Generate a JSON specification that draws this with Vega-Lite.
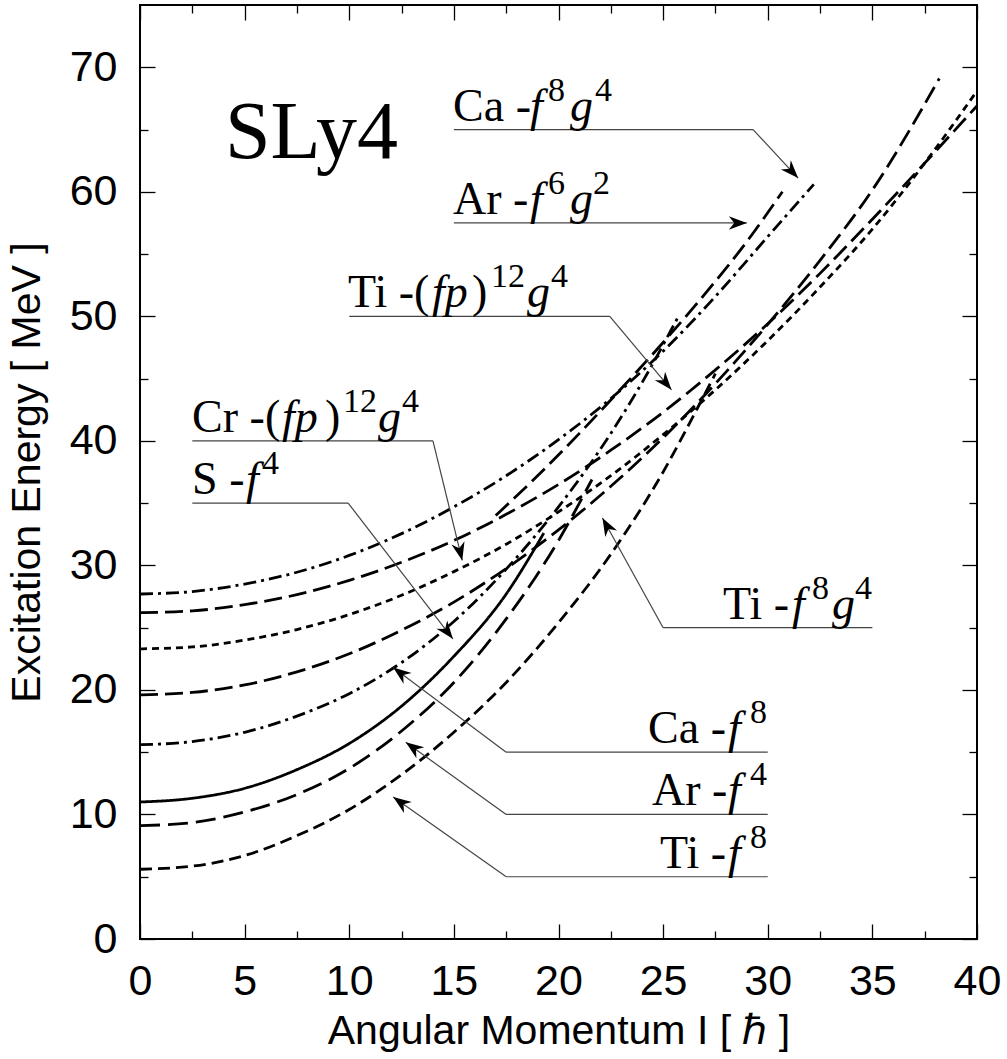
{
  "$schema": "https://vega.github.io/schema/vega-lite/v6.json",
  "width": 837,
  "height": 934,
  "autosize": {"type": "none"},
  "padding": {"left": 140, "top": 5, "right": 30, "bottom": 120},
  "background": "white",
  "config": {
    "view": {"stroke": "black", "strokeWidth": 2},
    "axis": {
      "domain": false, "grid": false, "tickColor": "black", "tickWidth": 1.3, "labelFlush": false,
      "labelFont": "Liberation Sans", "labelFontSize": 43, "labelColor": "black",
      "titleFont": "Liberation Sans", "titleFontSize": 41, "titleColor": "black", "titleFontWeight": "normal"
    }
  },
  "resolve": {"axis": {"x": "independent", "y": "independent"}},
  "datasets": {
    "curves": [
      {"curve": "TiF8", "I": 0, "E": 5.6}, {"curve": "TiF8", "I": 2.5, "E": 5.85}, {"curve": "TiF8", "I": 5, "E": 6.7}, {"curve": "TiF8", "I": 7.5, "E": 8.3}, {"curve": "TiF8", "I": 10, "E": 10.4}, {"curve": "TiF8", "I": 12.5, "E": 13.2}, {"curve": "TiF8", "I": 15, "E": 16.6}, {"curve": "TiF8", "I": 17.5, "E": 20.6}, {"curve": "TiF8", "I": 20, "E": 25.4}, {"curve": "TiF8", "I": 22.5, "E": 30.9}, {"curve": "TiF8", "I": 25, "E": 37.5}, {"curve": "TiF8", "I": 26.6, "E": 42.5}, {"curve": "TiF8", "I": 27.5, "E": 45.4},
      {"curve": "ArF4", "I": 0, "E": 9.1}, {"curve": "ArF4", "I": 2.5, "E": 9.35}, {"curve": "ArF4", "I": 5, "E": 10.2}, {"curve": "ArF4", "I": 7.5, "E": 11.6}, {"curve": "ArF4", "I": 10, "E": 13.7}, {"curve": "ArF4", "I": 12.5, "E": 16.7}, {"curve": "ArF4", "I": 15, "E": 20.6}, {"curve": "ArF4", "I": 17.5, "E": 25.7}, {"curve": "ArF4", "I": 20, "E": 32.0}, {"curve": "ArF4", "I": 21.6, "E": 36.9},
      {"curve": "SF4", "I": 0, "E": 11.0}, {"curve": "SF4", "I": 2.5, "E": 11.3}, {"curve": "SF4", "I": 5, "E": 12.1}, {"curve": "SF4", "I": 7.5, "E": 13.6}, {"curve": "SF4", "I": 10, "E": 15.7}, {"curve": "SF4", "I": 12.5, "E": 18.7}, {"curve": "SF4", "I": 15, "E": 22.7}, {"curve": "SF4", "I": 17.5, "E": 27.7}, {"curve": "SF4", "I": 19.3, "E": 32.6},
      {"curve": "CaF8", "I": 0, "E": 15.6}, {"curve": "CaF8", "I": 2.5, "E": 15.85}, {"curve": "CaF8", "I": 5, "E": 16.6}, {"curve": "CaF8", "I": 7.5, "E": 17.9}, {"curve": "CaF8", "I": 10, "E": 19.7}, {"curve": "CaF8", "I": 12.5, "E": 22.2}, {"curve": "CaF8", "I": 15, "E": 25.5}, {"curve": "CaF8", "I": 17.5, "E": 29.7}, {"curve": "CaF8", "I": 20, "E": 34.7}, {"curve": "CaF8", "I": 22.5, "E": 40.6}, {"curve": "CaF8", "I": 24, "E": 44.7}, {"curve": "CaF8", "I": 25.7, "E": 49.9},
      {"curve": "TiF8G4", "I": 0, "E": 19.6}, {"curve": "TiF8G4", "I": 2.5, "E": 19.8}, {"curve": "TiF8G4", "I": 5, "E": 20.4}, {"curve": "TiF8G4", "I": 7.5, "E": 21.45}, {"curve": "TiF8G4", "I": 10, "E": 22.9}, {"curve": "TiF8G4", "I": 12.5, "E": 24.8}, {"curve": "TiF8G4", "I": 15, "E": 27.05}, {"curve": "TiF8G4", "I": 17.5, "E": 29.75}, {"curve": "TiF8G4", "I": 20, "E": 32.85}, {"curve": "TiF8G4", "I": 22.5, "E": 36.35}, {"curve": "TiF8G4", "I": 25, "E": 40.25}, {"curve": "TiF8G4", "I": 27.5, "E": 44.6}, {"curve": "TiF8G4", "I": 30, "E": 49.35}, {"curve": "TiF8G4", "I": 32.5, "E": 54.5}, {"curve": "TiF8G4", "I": 35, "E": 60.15}, {"curve": "TiF8G4", "I": 38.2, "E": 69.1},
      {"curve": "CrFP", "I": 0, "E": 23.3}, {"curve": "CrFP", "I": 2.5, "E": 23.45}, {"curve": "CrFP", "I": 5, "E": 24.0}, {"curve": "CrFP", "I": 7.5, "E": 24.85}, {"curve": "CrFP", "I": 10, "E": 26.05}, {"curve": "CrFP", "I": 12.5, "E": 27.6}, {"curve": "CrFP", "I": 15, "E": 29.5}, {"curve": "CrFP", "I": 17.5, "E": 31.7}, {"curve": "CrFP", "I": 20, "E": 34.3}, {"curve": "CrFP", "I": 22.5, "E": 37.2}, {"curve": "CrFP", "I": 25, "E": 40.5}, {"curve": "CrFP", "I": 27.5, "E": 44.1}, {"curve": "CrFP", "I": 30, "E": 48.05}, {"curve": "CrFP", "I": 32.5, "E": 52.35}, {"curve": "CrFP", "I": 35, "E": 57.0}, {"curve": "CrFP", "I": 37.5, "E": 62.3}, {"curve": "CrFP", "I": 40, "E": 68.1},
      {"curve": "TiFP", "I": 0, "E": 26.2}, {"curve": "TiFP", "I": 2.5, "E": 26.35}, {"curve": "TiFP", "I": 5, "E": 26.85}, {"curve": "TiFP", "I": 7.5, "E": 27.65}, {"curve": "TiFP", "I": 10, "E": 28.8}, {"curve": "TiFP", "I": 12.5, "E": 30.25}, {"curve": "TiFP", "I": 15, "E": 32.0}, {"curve": "TiFP", "I": 17.5, "E": 34.1}, {"curve": "TiFP", "I": 20, "E": 36.5}, {"curve": "TiFP", "I": 22.5, "E": 39.25}, {"curve": "TiFP", "I": 25, "E": 42.3}, {"curve": "TiFP", "I": 27.5, "E": 45.7}, {"curve": "TiFP", "I": 30, "E": 49.4}, {"curve": "TiFP", "I": 32.5, "E": 53.45}, {"curve": "TiFP", "I": 35, "E": 57.8}, {"curve": "TiFP", "I": 37.5, "E": 62.3}, {"curve": "TiFP", "I": 40, "E": 66.9},
      {"curve": "CaF8G4", "I": 0, "E": 27.7}, {"curve": "CaF8G4", "I": 2.5, "E": 27.9}, {"curve": "CaF8G4", "I": 5, "E": 28.5}, {"curve": "CaF8G4", "I": 7.5, "E": 29.45}, {"curve": "CaF8G4", "I": 10, "E": 30.8}, {"curve": "CaF8G4", "I": 12.5, "E": 32.55}, {"curve": "CaF8G4", "I": 15, "E": 34.7}, {"curve": "CaF8G4", "I": 17.5, "E": 37.2}, {"curve": "CaF8G4", "I": 20, "E": 40.1}, {"curve": "CaF8G4", "I": 22.5, "E": 43.4}, {"curve": "CaF8G4", "I": 25, "E": 47.2}, {"curve": "CaF8G4", "I": 27.5, "E": 51.6}, {"curve": "CaF8G4", "I": 30, "E": 56.4}, {"curve": "CaF8G4", "I": 32.2, "E": 60.6},
      {"curve": "ArF6G2", "I": 17, "E": 34.0}, {"curve": "ArF6G2", "I": 19, "E": 37.2}, {"curve": "ArF6G2", "I": 21, "E": 40.6}, {"curve": "ArF6G2", "I": 23, "E": 44.2}, {"curve": "ArF6G2", "I": 25, "E": 47.9}, {"curve": "ArF6G2", "I": 27, "E": 51.8}, {"curve": "ArF6G2", "I": 29, "E": 56.0}, {"curve": "ArF6G2", "I": 30.7, "E": 60.0}
    ],
    "leaders": [
      {"x": 15, "y": 65, "x2": 29.3, "y2": 65, "arrow": false},
      {"x": 29.3, "y": 65, "x2": 31.45, "y2": 61.1, "arrow": true},
      {"x": 15, "y": 57.5, "x2": 29.0, "y2": 57.5, "arrow": true},
      {"x": 10, "y": 50, "x2": 22.45, "y2": 50, "arrow": false},
      {"x": 22.45, "y": 50, "x2": 25.4, "y2": 44.1, "arrow": true},
      {"x": 2.5, "y": 40, "x2": 14.0, "y2": 40, "arrow": false},
      {"x": 14.0, "y": 40, "x2": 15.4, "y2": 30.4, "arrow": true},
      {"x": 2.5, "y": 35, "x2": 9.95, "y2": 35, "arrow": false},
      {"x": 9.95, "y": 35, "x2": 14.95, "y2": 24.1, "arrow": true},
      {"x": 25, "y": 25, "x2": 35, "y2": 25, "arrow": false},
      {"x": 25, "y": 25, "x2": 22.1, "y2": 33.8, "arrow": true},
      {"x": 17.5, "y": 15, "x2": 30, "y2": 15, "arrow": false},
      {"x": 17.5, "y": 15, "x2": 12.1, "y2": 21.8, "arrow": true},
      {"x": 17.5, "y": 10, "x2": 30, "y2": 10, "arrow": false},
      {"x": 17.5, "y": 10, "x2": 12.7, "y2": 15.8, "arrow": true},
      {"x": 17.5, "y": 5, "x2": 30, "y2": 5, "arrow": false},
      {"x": 17.5, "y": 5, "x2": 12.1, "y2": 11.4, "arrow": true}
    ],
    "labRoman": [
      {"x": 14.96, "y": 65, "t": "Ca -"},
      {"x": 14.96, "y": 57.5, "t": "Ar -"},
      {"x": 9.94, "y": 50, "t": "Ti -("},
      {"x": 15.87, "y": 50, "t": ")"},
      {"x": 2.49, "y": 40, "t": "Cr -("},
      {"x": 8.84, "y": 40, "t": ")"},
      {"x": 2.49, "y": 35, "t": "S -"},
      {"x": 27.86, "y": 25, "t": "Ti -"},
      {"x": 24.28, "y": 15, "t": "Ca -"},
      {"x": 24.47, "y": 10, "t": "Ar -"},
      {"x": 24.85, "y": 5, "t": "Ti -"}
    ],
    "labItalic": [
      {"x": 18.64, "y": 65, "t": "f"}, {"x": 20.55, "y": 65, "t": "g"},
      {"x": 18.64, "y": 57.5, "t": "f"}, {"x": 20.55, "y": 57.5, "t": "g"},
      {"x": 13.95, "y": 50, "t": "fp"}, {"x": 18.49, "y": 50, "t": "g"},
      {"x": 6.79, "y": 40, "t": "fp"}, {"x": 11.37, "y": 40, "t": "g"},
      {"x": 5.07, "y": 35, "t": "f"},
      {"x": 31.16, "y": 25, "t": "f"}, {"x": 33.07, "y": 25, "t": "g"},
      {"x": 28.1, "y": 15, "t": "f"},
      {"x": 28.1, "y": 10, "t": "f"},
      {"x": 28.1, "y": 5, "t": "f"}
    ],
    "labSup": [
      {"x": 19.5, "y": 65, "t": "8"}, {"x": 21.74, "y": 65, "t": "4"},
      {"x": 19.5, "y": 57.5, "t": "6"}, {"x": 21.65, "y": 57.5, "t": "2"},
      {"x": 16.77, "y": 50, "t": "12"}, {"x": 19.64, "y": 50, "t": "4"},
      {"x": 9.7, "y": 40, "t": "12"}, {"x": 12.52, "y": 40, "t": "4"},
      {"x": 5.83, "y": 35, "t": "4"},
      {"x": 32.11, "y": 25, "t": "8"}, {"x": 34.17, "y": 25, "t": "4"},
      {"x": 29.15, "y": 15, "t": "8"},
      {"x": 29.15, "y": 10, "t": "4"},
      {"x": 29.15, "y": 5, "t": "8"}
    ],
    "title": [{"x": 4.06, "y": 62.7, "t": "SLy4"}]
  },
  "layer": [
    {
      "data": {"name": "curves"},
      "mark": {"type": "line", "interpolate": "monotone", "strokeWidth": 2.8, "color": "black", "clip": true},
      "encoding": {
        "x": {"field": "I", "type": "quantitative", "scale": {"domain": [0, 40], "nice": false, "zero": false},
          "axis": {"orient": "bottom", "values": [0, 5, 10, 15, 20, 25, 30, 35, 40], "tickSize": -15, "labelPadding": 36, "title": "Angular Momentum I [ ℏ ]", "titlePadding": 8}},
        "y": {"field": "E", "type": "quantitative", "scale": {"domain": [0, 75], "nice": false, "zero": false},
          "axis": {"orient": "left", "values": [0, 10, 20, 30, 40, 50, 60, 70], "tickSize": -15, "labelPadding": 38, "title": "Excitation Energy [ MeV ]", "titlePadding": 21}},
        "detail": {"field": "curve"},
        "strokeDash": {"field": "curve", "type": "nominal", "legend": null,
          "scale": {"domain": ["SF4", "TiF8", "ArF4", "CaF8", "TiF8G4", "CrFP", "TiFP", "CaF8G4", "ArF6G2"],
            "range": [[1, 0], [12, 6], [20, 8], [13, 5, 3, 5], [18, 7], [7, 5], [18, 7], [13, 5, 3, 5], [18, 7]]}}
      }
    },
    {
      "data": {"name": "leaders"},
      "mark": {"type": "rule", "color": "#444", "strokeWidth": 1.2},
      "encoding": {
        "x": {"field": "x", "type": "quantitative", "scale": {"domain": [0, 40], "nice": false, "zero": false},
          "axis": {"orient": "bottom", "values": [2.5, 7.5, 12.5, 17.5, 22.5, 27.5, 32.5, 37.5], "tickSize": -8, "labels": false, "title": null}},
        "y": {"field": "y", "type": "quantitative", "scale": {"domain": [0, 75], "nice": false, "zero": false},
          "axis": {"orient": "left", "values": [5, 15, 25, 35, 45, 55, 65], "tickSize": -8, "labels": false, "title": null}},
        "x2": {"field": "x2"},
        "y2": {"field": "y2"}
      }
    },
    {
      "data": {"name": "leaders"},
      "transform": [
        {"filter": "datum.arrow"},
        {"calculate": "atan2(-(datum.y2 - datum.y) * 12.4533, (datum.x2 - datum.x) * 20.925) * 180 / PI", "as": "ang"}
      ],
      "mark": {"type": "point", "shape": "M0,0 L-2,-0.75 L-1.4,0 L-2,0.75 Z", "filled": true, "color": "black", "opacity": 1, "size": 324},
      "encoding": {
        "x": {"field": "x2", "type": "quantitative", "scale": {"domain": [0, 40], "nice": false, "zero": false},
          "axis": {"orient": "top", "values": [0, 5, 10, 15, 20, 25, 30, 35, 40], "tickSize": -15, "labels": false, "title": null}},
        "y": {"field": "y2", "type": "quantitative", "scale": {"domain": [0, 75], "nice": false, "zero": false},
          "axis": {"orient": "right", "values": [0, 10, 20, 30, 40, 50, 60, 70], "tickSize": -15, "labels": false, "title": null}},
        "angle": {"field": "ang", "type": "quantitative", "scale": null}
      }
    },
    {
      "data": {"name": "labRoman"},
      "mark": {"type": "text", "font": "Liberation Serif", "fontSize": 46, "align": "left", "baseline": "alphabetic", "dy": -9, "color": "black"},
      "encoding": {
        "x": {"field": "x", "type": "quantitative", "scale": {"domain": [0, 40], "nice": false, "zero": false},
          "axis": {"orient": "top", "values": [2.5, 7.5, 12.5, 17.5, 22.5, 27.5, 32.5, 37.5], "tickSize": -8, "labels": false, "title": null}},
        "y": {"field": "y", "type": "quantitative", "scale": {"domain": [0, 75], "nice": false, "zero": false},
          "axis": {"orient": "right", "values": [5, 15, 25, 35, 45, 55, 65], "tickSize": -8, "labels": false, "title": null}},
        "text": {"field": "t"}
      }
    },
    {
      "data": {"name": "labItalic"},
      "mark": {"type": "text", "font": "Liberation Serif", "fontStyle": "italic", "fontSize": 46, "align": "left", "baseline": "alphabetic", "dy": -9, "color": "black"},
      "encoding": {
        "x": {"field": "x", "type": "quantitative", "scale": {"domain": [0, 40], "nice": false, "zero": false}, "axis": null},
        "y": {"field": "y", "type": "quantitative", "scale": {"domain": [0, 75], "nice": false, "zero": false}, "axis": null},
        "text": {"field": "t"}
      }
    },
    {
      "data": {"name": "labSup"},
      "mark": {"type": "text", "font": "Liberation Serif", "fontSize": 34, "align": "left", "baseline": "alphabetic", "dy": -29, "color": "black"},
      "encoding": {
        "x": {"field": "x", "type": "quantitative", "scale": {"domain": [0, 40], "nice": false, "zero": false}, "axis": null},
        "y": {"field": "y", "type": "quantitative", "scale": {"domain": [0, 75], "nice": false, "zero": false}, "axis": null},
        "text": {"field": "t"}
      }
    },
    {
      "data": {"name": "title"},
      "mark": {"type": "text", "font": "Liberation Serif", "fontSize": 82, "align": "left", "baseline": "alphabetic", "color": "black"},
      "encoding": {
        "x": {"field": "x", "type": "quantitative", "scale": {"domain": [0, 40], "nice": false, "zero": false}, "axis": null},
        "y": {"field": "y", "type": "quantitative", "scale": {"domain": [0, 75], "nice": false, "zero": false}, "axis": null},
        "text": {"field": "t"}
      }
    }
  ]
}
